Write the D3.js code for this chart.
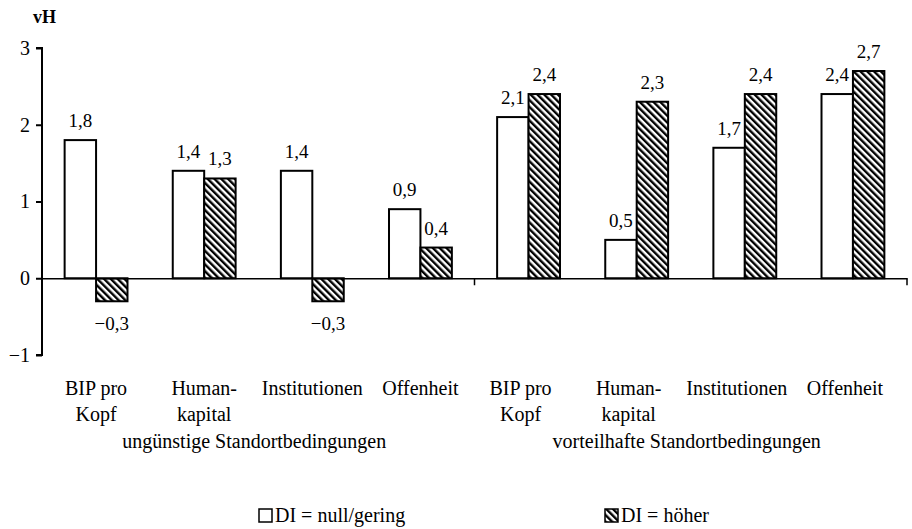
<!DOCTYPE html>
<html>
<head>
<meta charset="utf-8">
<script src="https://cdn.jsdelivr.net/npm/d3@7/dist/d3.min.js"></script>
<style>
  html, body { margin: 0; padding: 0; background: #fff; }
  svg { display: block; }
  svg text { font-family: "Liberation Serif", "Times New Roman", Times, "DejaVu Serif", serif !important; fill: #000; }
</style>
</head>
<body>
<svg id="chart" width="912" height="529" font-family="Liberation Serif, Times New Roman, serif"></svg>
<script>
// ---------- data ----------
const groups = ["ungünstige Standortbedingungen", "vorteilhafte Standortbedingungen"];
const categories = [["BIP pro", "Kopf"], ["Human-", "kapital"], ["Institutionen"], ["Offenheit"]];
const seriesNames = ["DI = null/gering", "DI = höher"];
const valuesGering = [1.8, 1.4, 1.4, 0.9, 2.1, 0.5, 1.7, 2.4];
const valuesHoeher = [-0.3, 1.3, -0.3, 0.4, 2.4, 2.3, 2.4, 2.7];
const yTicks = [-1, 0, 1, 2, 3];
const yUnit = "vH";

// ---------- layout ----------
const FONT = "Liberation Serif, Times New Roman, serif";
const plot = { left: 42, right: 907, top: 48, bottom: 355 };

const rows = [];
groups.forEach((g, gi) => categories.forEach((c, ci) => {
  const i = gi * categories.length + ci;
  rows.push({ key: gi + "-" + ci, group: gi, lines: c, values: [valuesGering[i], valuesHoeher[i]] });
}));

const svg = d3.select("#chart");
const locale = d3.formatLocale({ decimal: ",", thousands: ".", grouping: [3], currency: ["", ""], minus: "\u2212" });
const fmt = locale.format(".1f");

const y = d3.scaleLinear().domain([-1, 3]).range([plot.bottom, plot.top]);
const x0 = d3.scaleBand().domain(rows.map(r => r.key)).range([plot.left, plot.right]).padding(0);
const x1 = d3.scaleBand().domain(seriesNames).range([0, x0.bandwidth()]).paddingInner(0).paddingOuter(0.72);
const xg = d3.scaleBand().domain(groups).range([plot.left, plot.right]).padding(0);

function txt(sel) { return sel.append("text").attr("font-family", FONT).attr("fill", "#000"); }

// hatch pattern
const defs = svg.append("defs");
const pat = defs.append("pattern").attr("id", "hatch")
  .attr("patternUnits", "userSpaceOnUse").attr("width", 4.8).attr("height", 4.8)
  .attr("patternTransform", "rotate(-45)");
pat.append("rect").attr("width", 4.8).attr("height", 4.8).attr("fill", "#fff");
pat.append("rect").attr("x", 0).attr("width", 2.4).attr("height", 4.8).attr("fill", "#000");

const fills = ["#fff", "url(#hatch)"];

// bars
const gBars = svg.append("g");
rows.forEach(r => {
  r.values.forEach((v, si) => {
    const bx = x0(r.key) + x1(seriesNames[si]);
    gBars.append("rect")
      .attr("x", bx).attr("width", x1.bandwidth())
      .attr("y", y(Math.max(0, v))).attr("height", Math.abs(y(v) - y(0)))
      .attr("fill", fills[si]).attr("stroke", "#000").attr("stroke-width", 2);
    txt(gBars)
      .attr("x", bx + x1.bandwidth() / 2)
      .attr("y", v >= 0 ? y(v) - 13 : y(v) + 29)
      .attr("text-anchor", "middle").attr("font-size", 19)
      .text(fmt(v));
  });
});

// y axis
const yAxis = d3.axisLeft(y).tickValues(yTicks).tickSize(6).tickPadding(6)
  .tickFormat(d => locale.format("d")(d));
const gy = svg.append("g").attr("transform", `translate(${plot.left},0)`).call(yAxis)
  .attr("font-family", FONT);
gy.select(".domain").attr("stroke", "#000").attr("stroke-width", 2).attr("d", `M-6,${y(3)}H0V${y(-1)}H-6`);
gy.selectAll(".tick line").attr("stroke", "#000").attr("stroke-width", 2);
gy.selectAll(".tick text").attr("font-size", 20).attr("font-family", FONT).attr("fill", "#000");

// zero line with group separator ticks
const sepTicks = groups.map(g => xg(g) + xg.bandwidth());
const xAxis = d3.axisBottom(xg).tickValues([]).tickSizeOuter(0);
const gx = svg.append("g").attr("transform", `translate(0,${y(0)})`).call(xAxis);
gx.select(".domain").attr("stroke", "#000").attr("stroke-width", 1.6);
sepTicks.forEach(sx => {
  gx.append("line").attr("x1", sx).attr("x2", sx).attr("y1", 0).attr("y2", 7)
    .attr("stroke", "#000").attr("stroke-width", 1.5);
});

// category labels
rows.forEach(r => {
  const cx = x0(r.key) + x0.bandwidth() / 2 - (r.group === 1 ? 8 : 0);
  const t = txt(svg).attr("text-anchor", "middle").attr("font-size", 20).attr("x", cx).attr("y", 395);
  r.lines.forEach((ln, li) => {
    t.append("tspan").attr("x", cx).attr("dy", li === 0 ? 0 : 26).text(ln);
  });
});

// group labels
groups.forEach(g => {
  txt(svg).attr("text-anchor", "middle").attr("font-size", 20)
    .attr("x", xg(g) + xg.bandwidth() / 2 - 4).attr("y", 448).text(g);
});

// unit label
txt(svg).attr("x", 33).attr("y", 23).attr("font-size", 18).attr("font-weight", "bold").text(yUnit);

// legend
const legendX = [258, 604];
seriesNames.forEach((s, si) => {
  const lg = svg.append("g").attr("transform", `translate(${legendX[si]},522)`);
  lg.append("rect").attr("x", 1).attr("y", -13).attr("width", 13).attr("height", 13)
    .attr("fill", fills[si]).attr("stroke", "#000").attr("stroke-width", 1.5);
  txt(lg).attr("x", 17).attr("y", 0).attr("font-size", 20).text(s);
});
</script>
</body>
</html>
